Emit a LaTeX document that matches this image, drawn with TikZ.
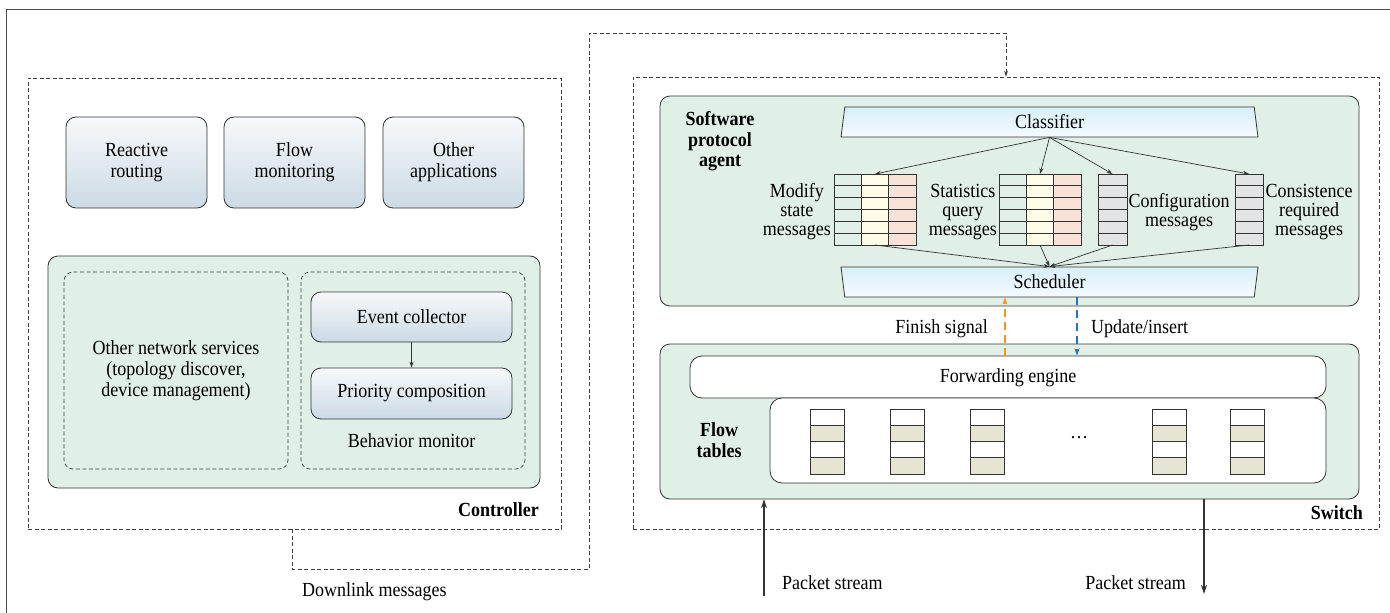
\documentclass[tikz,border=0pt]{standalone}
\usepackage{fontspec}
\setmainfont{LiberationSerif}[Extension=.ttf, UprightFont=*-Regular, BoldFont=*-Bold, ItalicFont=*-Italic, BoldItalicFont=*-BoldItalic, FakeStretch=0.9]
\usetikzlibrary{arrows.meta,shapes.geometric}
\definecolor{agreen}{HTML}{E1F0E6}
\definecolor{appTop}{HTML}{F7F9FB}
\definecolor{appBot}{HTML}{CBDAE4}
\definecolor{clsTop}{HTML}{D8EEFA}
\definecolor{clsBot}{HTML}{F5FBFE}
\definecolor{cYel}{HTML}{FEFBE6}
\definecolor{cPink}{HTML}{FBE2D8}
\definecolor{cGray}{HTML}{E3E4E6}
\definecolor{cBeige}{HTML}{E6E4D3}
\definecolor{cOrange}{HTML}{F7941D}
\definecolor{cBlue}{HTML}{1F73C0}
\definecolor{lineC}{HTML}{333333}
\begin{document}
\begin{tikzpicture}[x=1pt,y=-1pt,
  frame/.style={draw=black!70, line width=0.9pt},
  dbox/.style={draw=black!75, dash pattern=on 4pt off 2.5pt, line width=0.7pt, inner sep=0pt},
  appbox/.style={draw=lineC, line width=0.8pt, rounded corners=10pt, top color=appTop, bottom color=appBot, align=center, inner sep=0pt, font=\fontsize{20}{21}\selectfont},
  gbox/.style={draw=lineC, line width=0.8pt, fill=agreen, rounded corners=10pt, inner sep=0pt},
  wbox/.style={draw=lineC, line width=0.8pt, fill=white, rounded corners=12pt, inner sep=0pt},
  txt/.style={font=\fontsize{20}{21}\selectfont, align=center, inner sep=0pt},
  mtxt/.style={font=\fontsize{20}{19}\selectfont, align=center, inner sep=0pt},
  btxt/.style={font=\fontsize{20}{20.5}\selectfont\bfseries, align=center, inner sep=0pt},
  trap/.style={trapezium, trapezium left angle=75, trapezium right angle=75, trapezium stretches body, draw=lineC, line width=0.8pt, top color=clsTop, bottom color=clsBot, minimum width=417pt, minimum height=30pt, inner sep=0pt, font=\fontsize{20}{21}\selectfont},
  tline/.style={draw=lineC, line width=0.8pt},
  tbl/.style={inner sep=0pt, outer sep=0pt, minimum height=71pt},
  arr/.style={draw=lineC, line width=0.7pt, -{Stealth[length=6pt,width=4pt]}},
  dl/.style={draw=black!75, dash pattern=on 4pt off 2.5pt, line width=0.7pt, -{Stealth[length=6pt,width=4pt]}},
  parr/.style={draw=lineC, line width=1.5pt, -{Stealth[length=9pt,width=6pt]}},
  sig/.style={line width=1.6pt, dash pattern=on 8pt off 5pt, -{Stealth[length=7pt,width=5pt]}}
]
\useasboundingbox (0,0) rectangle (1390,613);
\fill[white] (0,0) rectangle (1390,613);
\draw[frame] (1392,9) -- (6,9) -- (6,615);

% ---------------- Controller ----------------
\node[dbox, minimum width=533pt, minimum height=451pt] (ctrl) at (294.5,303.5) {};
\node[appbox, minimum width=141pt, minimum height=91pt] (rr) at (136.5,162.5) {Reactive\\routing};
\node[appbox, minimum width=141pt, minimum height=91pt] (fm) at (294.5,162.5) {Flow\\monitoring};
\node[appbox, minimum width=141pt, minimum height=91pt] (oa) at (453.5,162.5) {Other\\applications};
\node[gbox, minimum width=492pt, minimum height=232pt] (cg) at (294,372) {};
\node[dbox, rounded corners=9pt, minimum width=224pt, minimum height=197pt] (ons) at (176,370.5) {};
\node[dbox, rounded corners=9pt, minimum width=224pt, minimum height=197pt] (bm) at (413,370.5) {};
\node[txt] (onsT) at (176,371) {Other network services\\(topology discover,\\device management)};
\node[appbox, minimum width=201pt, minimum height=50pt] (ec) at (411.5,317) {Event collector};
\node[appbox, minimum width=201pt, minimum height=51pt] (pc) at (411.5,393.5) {Priority composition};
\draw[arr] (ec) -- (pc);
\node[txt] (bmT) at (411.5,441) {Behavior monitor};
\node[btxt, anchor=east] (ctrlT) at (539,510) {Controller};

% ---------------- Switch ----------------
\node[dbox, minimum width=746pt, minimum height=452pt] (sw) at (1006,303) {};
\node[gbox, minimum width=699pt, minimum height=210pt] (ag) at (1009.5,201) {};
\node[btxt] (agT) at (720,141.5) {Software\\protocol\\agent};
\node[trap] (cls) at (1049.5,122) {Classifier};
\node[trap, shape border rotate=180] (sch) at (1049.5,282) {Scheduler};

% message tables
\fill[cYel] (861.3,174) rectangle (888.7,245);
\fill[cPink] (888.7,174) rectangle (916,245);
\fill[cYel] (1026.3,174) rectangle (1053.7,245);
\fill[cPink] (1053.7,174) rectangle (1081,245);
\fill[cGray] (1098,174) rectangle (1127,245);
\fill[cGray] (1235,174) rectangle (1263,245);
\foreach \xx in {834,999}{
  \foreach \i in {1,...,5} \draw[tline] (\xx,174+\i*11.833) -- (\xx+82,174+\i*11.833);
  \draw[tline] (\xx+27.33,174) -- (\xx+27.33,245);
  \draw[tline] (\xx+54.67,174) -- (\xx+54.67,245);
  \draw[tline] (\xx,174) rectangle (\xx+82,245);
}
\foreach \xx/\w in {1098/29,1235/28}{
  \foreach \i in {1,...,5} \draw[tline] (\xx,174+\i*11.833) -- (\xx+\w,174+\i*11.833);
  \draw[tline] (\xx,174) rectangle (\xx+\w,245);
}
\node[tbl, minimum width=27pt] (mt) at (875,209.5) {};
\node[tbl, minimum width=27pt] (st) at (1040,209.5) {};
\node[tbl, minimum width=29pt] (ct) at (1112.5,209.5) {};
\node[tbl, minimum width=28pt] (rt) at (1249,209.5) {};
\node[mtxt, anchor=east] (mtT) at (831,212) {Modify\\state\\messages};
\node[mtxt, anchor=east] (stT) at (997,212) {Statistics\\query\\messages};
\node[mtxt] (ctT) at (1179,212.5) {Configuration\\messages};
\node[mtxt] (rtT) at (1309,212) {Consistence\\required\\messages};
\foreach \t in {mt,st,ct,rt}{
  \draw[arr] (cls.south) -- (\t.north);
  \draw[arr] (\t.south) -- (sch.north);
}

% ---------------- data plane ----------------
\node[gbox, minimum width=699pt, minimum height=155pt] (swg) at (1009.5,421.5) {};
\node[wbox, minimum width=636pt, minimum height=42pt] (fe) at (1008,377) {};
\node[txt] (feT) at (1008,378) {Forwarding engine};
\node[wbox, minimum width=556pt, minimum height=85pt] (ft) at (1048,440.5) {};
\node[btxt] (ftT) at (719,440) {Flow\\tables};
\foreach \xx in {810,890,970,1152,1230}{
  \fill[cBeige] (\xx,425.25) rectangle (\xx+34,441.5);
  \fill[cBeige] (\xx,457.75) rectangle (\xx+34,474);
  \draw[tline] (\xx,425.25) -- (\xx+34,425.25);
  \draw[tline] (\xx,441.5) -- (\xx+34,441.5);
  \draw[tline] (\xx,457.75) -- (\xx+34,457.75);
  \draw[tline] (\xx,409) rectangle (\xx+34,474);
}
\node[txt] (dots) at (1079,438) {…};
\draw[sig, draw=cOrange] ([xshift=-3pt]fe.north) -- ([xshift=-3pt]fe.north |- sch.south);
\draw[sig, draw=cBlue] ([xshift=69pt]fe.north |- sch.south) -- ([xshift=69pt]fe.north);
\node[txt, anchor=east] (fsT) at (988,329) {Finish signal};
\node[txt, anchor=west] (uiT) at (1091,329) {Update/insert};
\node[btxt, anchor=east] (swT) at (1363,513) {Switch};

% downlink
\draw[dl] ([xshift=-2.5pt]ctrl.south) -- ++(0,40) -| (589,33) -| (sw.north);
\node[txt, anchor=west] (dlT) at (302,592) {Downlink messages};

% packet streams
\coordinate (pin) at (764,596);
\coordinate (pout) at (1204,594);
\draw[parr] (pin) -- (pin |- swg.south);
\draw[parr] (pout |- swg.south) -- (pout);
\node[txt, anchor=west] (p1T) at (782,583) {Packet stream};
\node[txt, anchor=east] (p2T) at (1186,583) {Packet stream};
\end{tikzpicture}
\end{document}
